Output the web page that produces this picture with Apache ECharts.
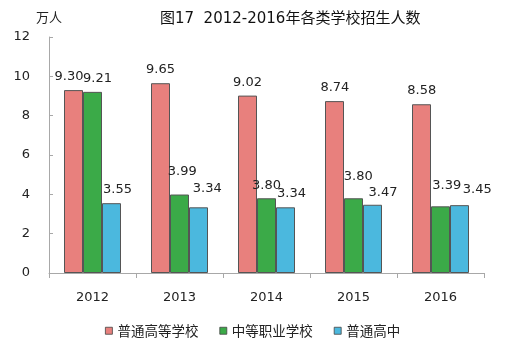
<!DOCTYPE html>
<html><head><meta charset="utf-8">
<script src="https://cdn.jsdelivr.net/npm/echarts@6/dist/echarts.min.js"></script>
<style>html,body{margin:0;padding:0;background:#fff}#c{width:512px;height:348px}</style>
</head><body><div id="c"></div>
<script>
var categories = ['2012','2013','2014','2015','2016'];
var seriesNames = ['普通高等学校','中等职业学校','普通高中'];
var higherEd = [9.30, 9.65, 9.02, 8.74, 8.58];
var vocational = [9.21, 3.99, 3.80, 3.80, 3.39];
var highSchool = [3.55, 3.34, 3.34, 3.47, 3.45];
var yTicks = [0, 2, 4, 6, 8, 10, 12];

// label placement nudges (style only), [dx, dy] per bar
var labelNudges = [
  [[-4.5,-1.5],[0,-2.3],[0,-1.5],[0.4,-1.5],[0.2,-2]],
  [[5,-2],[2.8,-11.8],[0,-1.5],[4.7,-10.5],[6.2,-9.6]],
  [[6,-2],[8.8,-7.3],[6,-2.3],[10.5,-0.3],[17.8,-4.4]]
];
var colors = ['#E8807D', '#3BAA48', '#4BB8DE'];
var font = '"DejaVu Sans", "Noto Sans CJK SC", sans-serif';
var cjk = '"Noto Sans CJK SC", "DejaVu Sans", sans-serif';
var chart = echarts.init(document.getElementById('c'));
function mk(name, values, i){
  var data = values.map(function(v, j){
    return {value: v, label: {offset: labelNudges[i][j]}};
  });
  return {name:name, type:'bar', data:data, barWidth:19, barGap:'0%',
    itemStyle:{color:colors[i], borderColor:'#555', borderWidth:1},
    label:{show:true, position:'top', distance:5, color:'#222', fontSize:13, fontFamily:font,
      formatter:function(p){return p.value.toFixed(2);}}};
}
chart.setOption({
  animation:false,
  backgroundColor:'#fff',
  title:{text:'图17  2012-2016年各类学校招生人数', left:155, top:7,
    textStyle:{fontSize:15, fontWeight:'normal', color:'#111', fontFamily:font}},
  grid:{left:49, right:28, top:37, bottom:75},
  legend:{top:319, left:100, itemWidth:7, itemHeight:7, itemGap:21, icon:'rect',
    textStyle:{fontSize:13.5, color:'#222', fontFamily:cjk},
    itemStyle:{borderColor:'#444', borderWidth:0.8},
    data:seriesNames},
  xAxis:{type:'category', data:categories,
    axisLine:{lineStyle:{color:'#a8a8a8'}},
    axisTick:{show:true, length:5, lineStyle:{color:'#a8a8a8'}},
    axisLabel:{fontSize:13, color:'#222', margin:18, fontFamily:font}},
  yAxis:{type:'value', min:yTicks[0], max:yTicks[yTicks.length-1], interval:2,
    name:'万人', nameLocation:'end', nameGap:13,
    nameTextStyle:{fontSize:13, color:'#222', fontFamily:cjk, align:'center'},
    axisLine:{show:true, lineStyle:{color:'#a8a8a8'}},
    axisTick:{show:true, inside:true, length:4, lineStyle:{color:'#a8a8a8'}},
    splitLine:{show:false},
    axisLabel:{fontSize:13, color:'#222', margin:19, fontFamily:font}},
  series:[mk(seriesNames[0], higherEd, 0), mk(seriesNames[1], vocational, 1), mk(seriesNames[2], highSchool, 2)]
});
</script></body></html>
